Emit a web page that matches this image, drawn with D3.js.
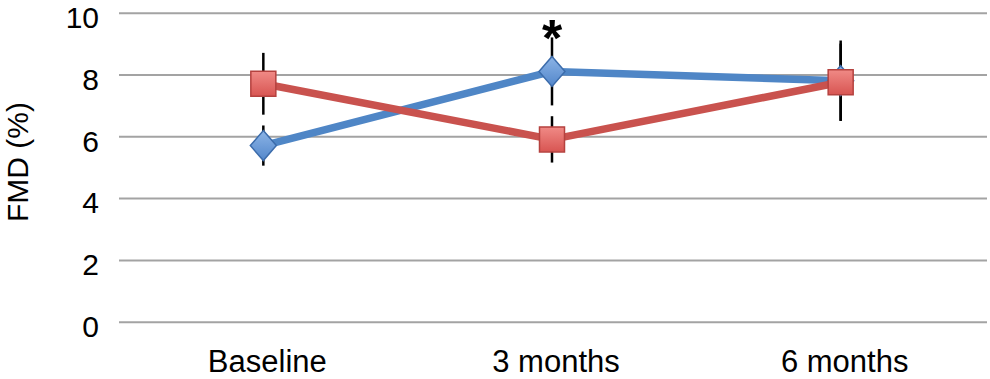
<!DOCTYPE html>
<html>
<head>
<meta charset="utf-8">
<script src="https://cdn.jsdelivr.net/npm/d3@7"></script>
<style>
  body { margin: 0; background: #fff; }
  text { font-family: "Liberation Sans", Arial, sans-serif; }
</style>
</head>
<body>
<svg width="990" height="379"></svg>
<script>
// chart data
var categories = ['Baseline', '3 months', '6 months'];
var blueMean = [5.7, 8.1, 7.8];
var blueErr = [0.65, 1.1, 1.3];
var redMean = [7.7, 5.9, 7.75];
var redErr = [1.0, 0.75, 1.25];
var yTicks = [0, 2, 4, 6, 8, 10];
var significant = ['3 months'];

var svg = d3.select('svg');

var x = d3.scalePoint().domain(categories).range([119, 985]).padding(0.5);
var y = d3.scaleLinear().domain([0, 10]).range([321.7, 12.7]);

var defs = svg.append('defs');
function grad(id, c1, c2) {
  var g = defs.append('linearGradient').attr('id', id)
    .attr('x1', 0).attr('y1', 0).attr('x2', 0).attr('y2', 1);
  g.append('stop').attr('offset', '0%').attr('stop-color', c1);
  g.append('stop').attr('offset', '100%').attr('stop-color', c2);
}
grad('gRed', '#f08a86', '#d85552');
grad('gBlue', '#8cb4e6', '#5387cb');

// gridlines + y axis labels
var yAxis = svg.append('g')
  .attr('transform', 'translate(119,0)')
  .call(d3.axisLeft(y).tickValues(yTicks).tickSize(-868).tickPadding(20));
yAxis.select('.domain').remove();
yAxis.selectAll('line').attr('stroke', '#a3a3a3').attr('stroke-width', 2);
yAxis.selectAll('text')
  .attr('fill', '#000')
  .attr('dy', '0.49em')
  .style('font-size', '30px')
  .style('font-family', '"Liberation Sans", Arial, sans-serif');

// x labels
svg.append('g').selectAll('text')
  .data(categories)
  .enter()
  .append('text')
  .attr('x', function(d) { return x(d) + 4; })
  .attr('y', 372)
  .attr('text-anchor', 'middle')
  .style('font-size', '31px')
  .text(function(d) { return d; });

// y title
svg.append('text')
  .attr('transform', 'translate(28,162) rotate(-90)')
  .attr('text-anchor', 'middle')
  .style('font-size', '30px')
  .text('FMD (%)');

var series = [
  { mean: blueMean, err: blueErr, line: '#4f86c6', fill: 'url(#gBlue)', stroke: '#3c6cab', shape: 'diamond' },
  { mean: redMean, err: redErr, line: '#c9524e', fill: 'url(#gRed)', stroke: '#b5423f', shape: 'square' }
];

var lineGen = d3.line()
  .x(function(d, i) { return x(categories[i]); })
  .y(function(d) { return y(d); });

// error bars
series.forEach(function(s) {
  svg.append('g').selectAll('line')
    .data(s.mean)
    .enter()
    .append('line')
    .attr('x1', function(d, i) { return x(categories[i]); })
    .attr('x2', function(d, i) { return x(categories[i]); })
    .attr('y1', function(d, i) { return y(d + s.err[i]); })
    .attr('y2', function(d, i) { return y(d - s.err[i]); })
    .attr('stroke', '#000')
    .attr('stroke-width', 2.5);
});

// lines and markers
series.forEach(function(s) {
  svg.append('path')
    .datum(s.mean)
    .attr('d', lineGen)
    .attr('fill', 'none')
    .attr('stroke', s.line)
    .attr('stroke-width', 7.5)
    .attr('stroke-linejoin', 'round');

  var m = svg.append('g').selectAll('path')
    .data(s.mean)
    .enter()
    .append('path')
    .attr('transform', function(d, i) {
      return 'translate(' + x(categories[i]) + ',' + y(d) + ')';
    })
    .attr('fill', s.fill)
    .attr('stroke', s.stroke)
    .attr('stroke-width', 1.5);
  if (s.shape === 'square') {
    m.attr('d', 'M-12.5,-12.5H12.5V12.5H-12.5Z');
  } else {
    m.attr('d', 'M0,-15L13,0L0,15L-13,0Z');
  }
});

// significance marker
svg.append('g').selectAll('text')
  .data(significant)
  .enter()
  .append('text')
  .attr('x', function(d) { return x(d); })
  .attr('y', 56)
  .attr('text-anchor', 'middle')
  .style('font-size', '52px')
  .style('font-weight', 'bold')
  .text('*');
</script>
</body>
</html>
